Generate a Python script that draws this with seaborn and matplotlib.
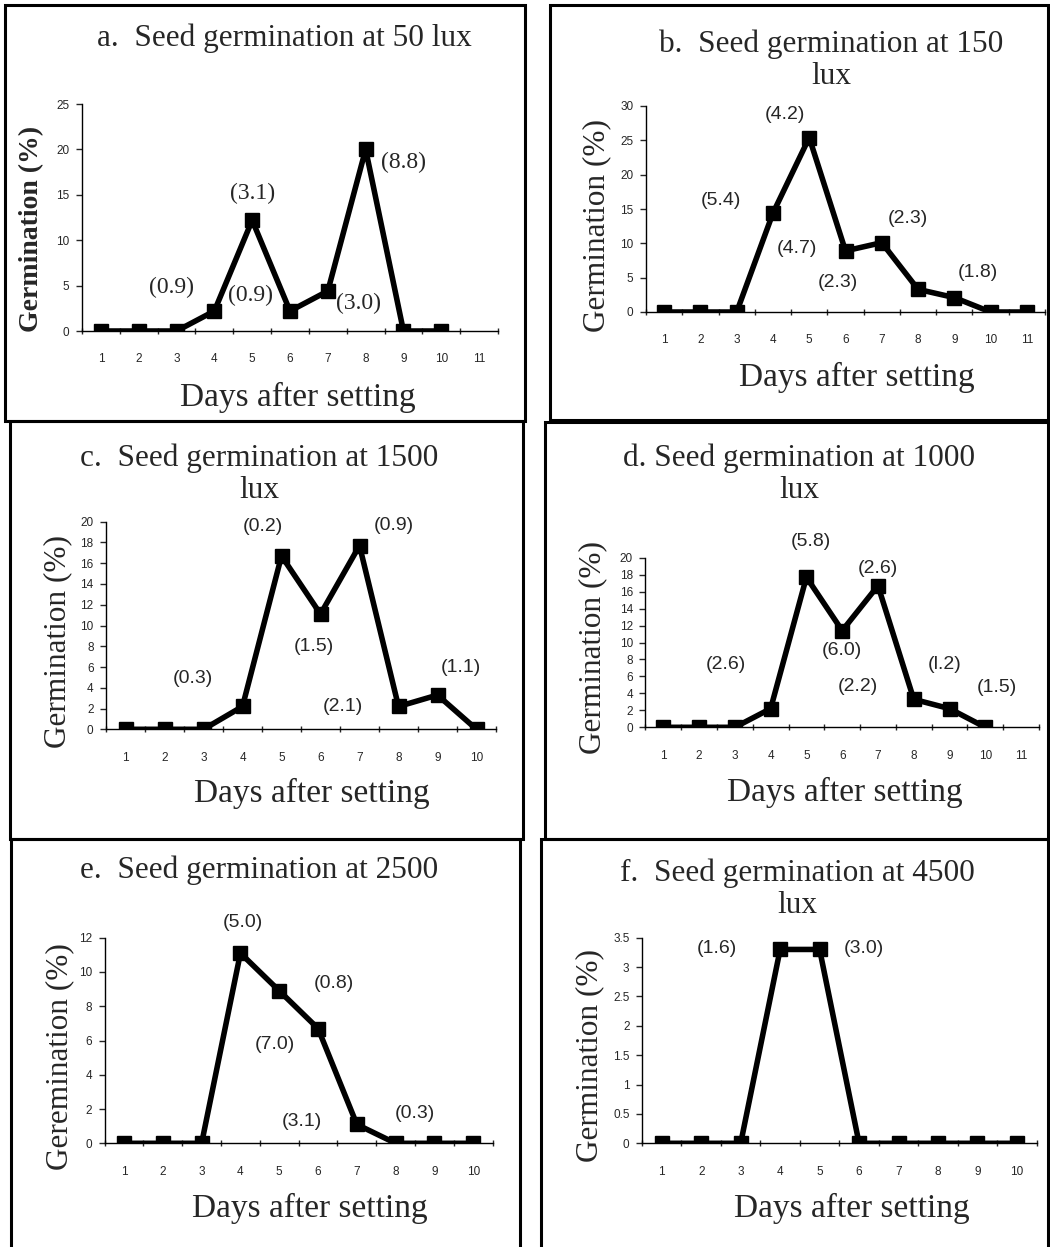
import matplotlib
matplotlib.use("Agg")
import matplotlib.pyplot as plt
import seaborn as sns
import pandas as pd
from matplotlib.ticker import FixedLocator, FuncFormatter, NullFormatter
from matplotlib.patches import Rectangle

# ---------------- data ----------------
days_a = [1, 2, 3, 4, 5, 6, 7, 8, 9, 10]
germ_a = [0, 0, 0, 2.2, 12.2, 2.2, 4.4, 20.0, 0, 0]
days_b = [1, 2, 3, 4, 5, 6, 7, 8, 9, 10, 11]
germ_b = [0, 0, 0, 14.4, 25.4, 8.9, 10.1, 3.3, 2.1, 0, 0]
days_c = [1, 2, 3, 4, 5, 6, 7, 8, 9, 10]
germ_c = [0, 0, 0, 2.2, 16.7, 11.1, 17.7, 2.2, 3.3, 0]
days_d = [1, 2, 3, 4, 5, 6, 7, 8, 9, 10]
germ_d = [0, 0, 0, 2.2, 17.7, 11.4, 16.7, 3.3, 2.2, 0]
days_e = [1, 2, 3, 4, 5, 6, 7, 8, 9, 10]
germ_e = [0, 0, 0, 11.1, 8.9, 6.7, 1.1, 0, 0, 0]
days_f = [1, 2, 3, 4, 5, 6, 7, 8, 9, 10]
germ_f = [0, 0, 0, 3.3, 3.3, 0, 0, 0, 0, 0]

titles = ["a.  Seed germination at 50 lux",
          "b.  Seed germination at 150\nlux",
          "c.  Seed germination at 1500\nlux",
          "d. Seed germination at 1000\nlux",
          "e.  Seed germination at 2500",
          "f.  Seed germination at 4500\nlux"]
ylabels = ["Germination (%)", "Germination (%)", "Germination (%)",
           "Germination (%)", "Geremination (%)", "Germination (%)"]
xlabel_text = "Days after setting"
n_categories = [11, 11, 10, 11, 10, 10]
y_ticks_a = [0, 5, 10, 15, 20, 25]
y_ticks_b = [0, 5, 10, 15, 20, 25, 30]
y_ticks_c = [0, 2, 4, 6, 8, 10, 12, 14, 16, 18, 20]
y_ticks_d = [0, 2, 4, 6, 8, 10, 12, 14, 16, 18, 20]
y_ticks_e = [0, 2, 4, 6, 8, 10, 12]
y_ticks_f = [0, 0.5, 1, 1.5, 2, 2.5, 3, 3.5]

notes_a = ["(3.1)", "(8.8)", "(0.9)", "(0.9)", "(3.0)"]
notes_b = ["(4.2)", "(5.4)", "(4.7)", "(2.3)", "(2.3)", "(1.8)"]
notes_c = ["(0.2)", "(0.9)", "(1.5)", "(0.3)", "(2.1)", "(1.1)"]
notes_d = ["(5.8)", "(2.6)", "(6.0)", "(2.6)", "(2.2)", "(l.2)", "(1.5)"]
notes_e = ["(5.0)", "(0.8)", "(7.0)", "(3.1)", "(0.3)"]
notes_f = ["(1.6)", "(3.0)"]

# label anchor positions (data coordinates of each panel)
pos_a = [(5.0, 15.2), (9.0, 18.6), (2.87, 4.8), (4.96, 3.96), (7.81, 3.05)]
pos_b = [(4.33, 28.7), (2.57, 16.3), (4.65, 9.2), (5.78, 4.27), (7.73, 13.6), (9.65, 5.7)]
pos_c = [(4.51, 19.5), (7.87, 19.6), (5.83, 8.0), (2.72, 4.85), (6.57, 2.2), (9.6, 6.0)]
pos_d = [(5.12, 21.9), (7.0, 18.75), (5.98, 9.1), (2.74, 7.46), (6.45, 4.8), (8.87, 7.46), (10.31, 4.7)]
pos_e = [(4.06, 12.9), (6.42, 9.34), (4.89, 5.78), (5.58, 1.3), (8.5, 1.75)]
pos_f = [(2.4, 3.32), (6.12, 3.32)]

# ---------------- style ----------------
sns.set_style("ticks")
plt.rcParams["font.family"] = ["Liberation Sans", "DejaVu Sans"]
SERIF = ["Liberation Serif", "DejaVu Serif"]
SANS = ["Liberation Sans", "DejaVu Sans"]

W, H = 1050, 1247
fig = plt.figure(figsize=(W / 100, H / 100), dpi=100)
fig.patch.set_facecolor("white")


def fx(x):
    return x / W


def fy(y):
    return 1 - y / H


# axes boxes in pixels: left, top, right, bottom
ax_boxes = [(82, 104, 498, 331),
            (646, 106, 1045, 312),
            (106, 521.7, 496, 729.3),
            (645.4, 557.7, 1039, 727.3),
            (104.6, 937.7, 492.7, 1143.3),
            (642, 937.7, 1036.7, 1143.3)]
frames = [(5, 5, 525, 421), (550, 5, 1048, 420),
          (10, 421, 523, 839), (545, 422, 1048, 839),
          (11, 839, 520, 1252), (541, 839, 1048, 1252)]
title_pos = [(284, 38), (831, 60), (259, 474), (799, 474), (259, 870), (797, 889)]
ylabel_pos = [(32, 229), (597, 225), (58, 642), (593, 648), (60, 1057), (590, 1056)]
xlabel_pos = [(298, 397), (857, 377), (312, 793), (845, 792), (310, 1208), (852, 1208)]

panels = [(days_a, germ_a, y_ticks_a, notes_a, pos_a),
          (days_b, germ_b, y_ticks_b, notes_b, pos_b),
          (days_c, germ_c, y_ticks_c, notes_c, pos_c),
          (days_d, germ_d, y_ticks_d, notes_d, pos_d),
          (days_e, germ_e, y_ticks_e, notes_e, pos_e),
          (days_f, germ_f, y_ticks_f, notes_f, pos_f)]

for i, (days, germ, yt, notes, pos) in enumerate(panels):
    l, t, r, b = ax_boxes[i]
    ax = fig.add_axes([fx(l), fy(b), (r - l) / W, (b - t) / H])
    df = pd.DataFrame({"day": days, "germ": germ})
    sns.lineplot(data=df, x="day", y="germ", ax=ax, color="black", lw=4,
                 marker="s", markersize=9.5, mec="black", mfc="black", mew=1)
    n = n_categories[i]
    ax.set_xlim(0.5, n + 0.5)
    ax.set_ylim(yt[0], yt[-1])
    ax.xaxis.set_major_locator(FixedLocator(list(range(1, n + 1))))
    ax.xaxis.set_minor_locator(FixedLocator([k + 0.5 for k in range(0, n + 1)]))
    ax.xaxis.set_minor_formatter(NullFormatter())
    ax.tick_params(axis="x", which="major", length=0, pad=16, labelsize=8.5)
    ax.tick_params(axis="x", which="minor", length=5, direction="inout", width=1)
    ax.yaxis.set_major_locator(FixedLocator(yt))
    ax.yaxis.set_major_formatter(FuncFormatter(lambda v, p: f"{v:g}"))
    ax.tick_params(axis="y", which="major", length=4, direction="out", width=1,
                   pad=5, labelsize=8.5)
    for lab in ax.get_xticklabels() + ax.get_yticklabels():
        lab.set_family(SANS)
    for sp in ["top", "right"]:
        ax.spines[sp].set_visible(False)
    for sp in ["left", "bottom"]:
        ax.spines[sp].set_linewidth(1)
        ax.spines[sp].set_color("black")
    ax.set_xlabel("")
    ax.set_ylabel("")
    ax.set_facecolor("none")
    for txt, (px, py) in zip(notes, pos):
        if i == 0:
            ax.text(px, py, txt, ha="center", va="center", fontsize=17,
                    family=SERIF, clip_on=False)
        else:
            ax.text(px, py, txt, ha="center", va="center", fontsize=14,
                    family=SANS, clip_on=False)

    # titles and axis labels
    tx, ty = title_pos[i]
    fig.text(fx(tx), fy(ty), titles[i], ha="center", va="center", fontsize=22.5,
             family=SERIF, linespacing=1.12)
    lx, ly = ylabel_pos[i]
    if i == 0:
        fig.text(fx(lx), fy(ly), ylabels[i], rotation=90, ha="center", va="center",
                 fontsize=20, family=SERIF, fontweight="bold")
    else:
        fig.text(fx(lx), fy(ly), ylabels[i], rotation=90, ha="center", va="center",
                 fontsize=22.5, family=SERIF)
    xx, xy = xlabel_pos[i]
    fig.text(fx(xx), fy(xy), xlabel_text, ha="center", va="center", fontsize=24,
             family=SERIF)

    x0, y0, x1, y1 = frames[i]
    fig.patches.append(Rectangle((fx(x0), fy(y1)), (x1 - x0) / W, (y1 - y0) / H,
                                 transform=fig.transFigure, fill=False,
                                 lw=2.2, ec="black", zorder=10))

fig.savefig("out.png", dpi=100, facecolor="white")
